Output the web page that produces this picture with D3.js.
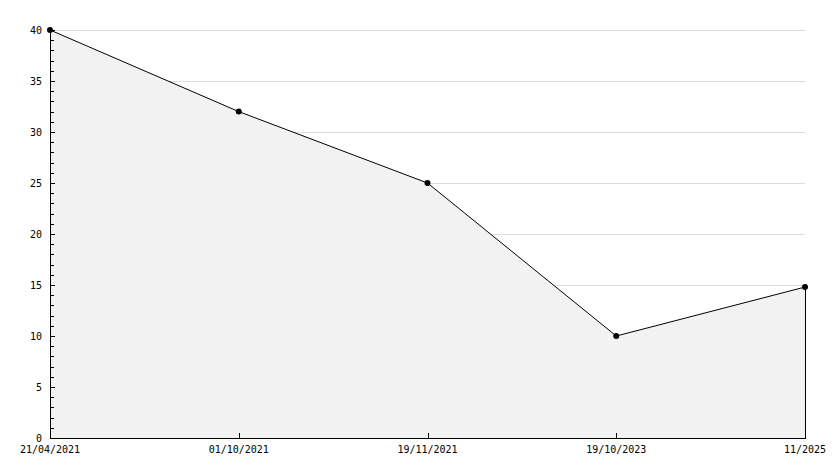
<!DOCTYPE html>
<meta charset="utf-8">
<svg width="834" height="468"></svg>

<style>
body { margin: 0; background: #fff; }
svg { display: block; font-family: 'DejaVu Sans Mono', monospace; font-size: 10px; }
.grid line { stroke: #dcdcdc; stroke-width: 1; shape-rendering: crispEdges; }
.area { fill: #f2f2f2; }
.line { fill: none; stroke: #000; stroke-width: 1; }
.axis path, .axis line { stroke: #000; shape-rendering: crispEdges; }
</style>

<script src="https://d3js.org/d3.v7.min.js"></script>
<script>

var dates  = ["21/04/2021", "01/10/2021", "19/11/2021", "19/10/2023", "11/2025"];
var values = [40, 32, 25, 10, 14.8];
var yTicks = [0, 5, 10, 15, 20, 25, 30, 35, 40];

var svg = d3.select("svg"),
    plotLeft = 50, plotRight = 805, plotTop = 30, plotBottom = 438;

var x = d3.scalePoint()
    .domain(dates)
    .range([plotLeft, plotRight]);

var y = d3.scaleLinear()
    .domain([0, 40])
    .range([plotBottom, plotTop]);

var data = dates.map(function(d, i) { return {date: d, value: values[i]}; });

// grid lines behind the area
svg.append("g")
    .attr("class", "grid")
  .selectAll("line")
  .data(yTicks.filter(function(d) { return d > 0; }))
  .enter().append("line")
    .attr("x1", plotLeft)
    .attr("x2", plotRight)
    .attr("y1", function(d) { return Math.round(y(d)) + 0.5; })
    .attr("y2", function(d) { return Math.round(y(d)) + 0.5; });

var area = d3.area()
    .x(function(d) { return x(d.date); })
    .y0(y(0))
    .y1(function(d) { return y(d.value); });

svg.append("path")
    .datum(data)
    .attr("class", "area")
    .attr("d", area);

var line = d3.line()
    .x(function(d) { return x(d.date); })
    .y(function(d) { return y(d.value); });

svg.append("path")
    .datum(data)
    .attr("class", "line")
    .attr("d", line);

// right edge of the area
svg.append("line")
    .attr("x1", x(dates[dates.length - 1]) + 0.5)
    .attr("x2", x(dates[dates.length - 1]) + 0.5)
    .attr("y1", y(values[values.length - 1]))
    .attr("y2", y(0))
    .attr("stroke", "#000")
    .attr("shape-rendering", "crispEdges");

// y axis: ticks pointing into the chart, minor every 1
var yAxis = svg.append("g").attr("class", "axis");
yAxis.append("line")
    .attr("x1", plotLeft + 0.5).attr("x2", plotLeft + 0.5)
    .attr("y1", y(40)).attr("y2", y(0));
yAxis.selectAll(".minor")
  .data(d3.range(0, 41))
  .enter().append("line")
    .attr("x1", plotLeft)
    .attr("x2", function(d) { return d % 5 === 0 ? plotLeft + 5 : plotLeft + 4; })
    .attr("y1", function(d) { return Math.round(y(d)) + 0.5; })
    .attr("y2", function(d) { return Math.round(y(d)) + 0.5; });
yAxis.selectAll("text")
  .data(yTicks)
  .enter().append("text")
    .attr("x", plotLeft - 8)
    .attr("y", function(d) { return y(d); })
    .attr("dy", "0.35em")
    .attr("text-anchor", "end")
    .text(function(d) { return d; });

// x axis
var xAxis = svg.append("g").attr("class", "axis");
xAxis.append("line")
    .attr("x1", plotLeft).attr("x2", plotRight + 1)
    .attr("y1", plotBottom + 0.5).attr("y2", plotBottom + 0.5);
xAxis.selectAll(".tick")
  .data(dates)
  .enter().append("line")
    .attr("x1", function(d) { return Math.round(x(d)) + 0.5; })
    .attr("x2", function(d) { return Math.round(x(d)) + 0.5; })
    .attr("y1", plotBottom)
    .attr("y2", plotBottom - 5);
xAxis.selectAll("text")
  .data(dates)
  .enter().append("text")
    .attr("x", function(d) { return x(d); })
    .attr("y", plotBottom + 15)
    .attr("text-anchor", "middle")
    .text(function(d) { return d; });

// markers
svg.selectAll(".dot")
  .data(data)
  .enter().append("circle")
    .attr("cx", function(d) { return x(d.date); })
    .attr("cy", function(d) { return y(d.value); })
    .attr("r", 3)
    .attr("fill", "#000");

</script>
